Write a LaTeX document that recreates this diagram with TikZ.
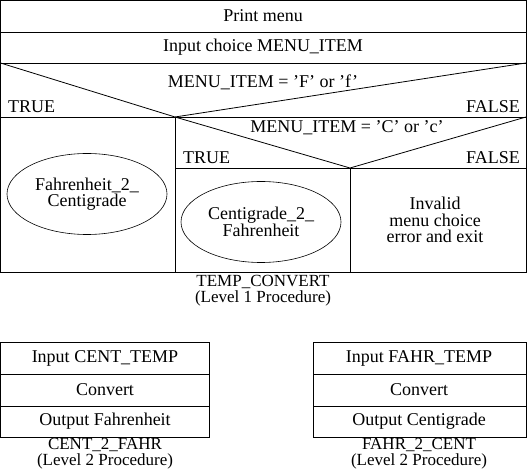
\documentclass[tikz,border=0pt]{standalone}
\usepackage{fontspec}
\setmainfont{Liberation Serif}
\usetikzlibrary{shapes.geometric}
\begin{document}
\begin{tikzpicture}[x=1pt,y=-1pt]
        \tikzset{txt/.style = {font=\fontsize{18}{16.5}\selectfont, inner sep=0pt, align=center}}
        \tikzset{caption/.style = {txt, font=\fontsize{17}{16}\selectfont, anchor=base}}
        \tikzset{blk/.style = {draw, line width=0.8pt}}
        \tikzset{proc/.style = {shape=ellipse, draw, line width=0.6pt, minimum width=160, minimum height=81, inner sep=0pt, font=\fontsize{18}{16.5}\selectfont, align=center}}
        \useasboundingbox (0,0) rectangle (527,470);
        % level 1 outline
        \draw[blk] (0.5,0.5) rectangle (526,272);
        \draw[blk] (0.5,32) -- (526,32);
        \draw[blk] (0.5,63) -- (526,63);
        \draw[blk] (0.5,117) -- (526,117);
        \draw[blk] (175,117) -- (175,272);
        \draw[blk] (175,168) -- (526,168);
        \draw[blk] (350,168) -- (350,272);
        % decisions
        \draw[blk] (0.5,63) -- (175,117) -- (526,63);
        \draw[blk] (175,117) -- (350,168) -- (526,117);
        % texts
        \node[txt] (print) at (263,16) {Print menu};
        \node[txt] (input) at (263,47) {Input choice MENU\_ITEM};
        \node[txt] (testf) at (263,82) {MENU\_ITEM = 'F' or 'f'};
        \node[txt, anchor=west] (truef) at (8,107) {TRUE};
        \node[txt, anchor=east] (falsef) at (520,107) {FALSE};
        \node[txt] (testc) at (347,128) {MENU\_ITEM = 'C' or 'c'};
        \node[txt, anchor=west] (truec) at (183,158) {TRUE};
        \node[txt, anchor=east] (falsec) at (520,158) {FALSE};
        \node[proc] (f2c) at (87,194) {Fahrenheit\_2\_\\Centigrade};
        \node[proc] (c2f) at (261,222) {Centigrade\_2\_\\Fahrenheit};
        \node[txt] (invalid) at (435,220) {Invalid\\menu choice\\error and exit};
        \node[caption] (temp) at (263,286) {TEMP\_CONVERT};
        \node[caption] (templev) at (263,302) {(Level 1 Procedure)};
        % level 2 procedures
        \draw[blk] (0.5,342) rectangle (209,437);
        \draw[blk] (0.5,374) -- (209,374);
        \draw[blk] (0.5,406) -- (209,406);
        \draw[blk] (313,342) rectangle (526,437);
        \draw[blk] (313,374) -- (526,374);
        \draw[blk] (313,406) -- (526,406);
        \node[txt] (incent) at (105,358) {Input CENT\_TEMP};
        \node[txt] (convl) at (105,390) {Convert};
        \node[txt] (outf) at (105,421) {Output Fahrenheit};
        \node[caption] (centfahr) at (105,449.5) {CENT\_2\_FAHR};
        \node[caption] (centlev) at (105,465.5) {(Level 2 Procedure)};
        \node[txt] (infahr) at (419,358) {Input FAHR\_TEMP};
        \node[txt] (convr) at (419,390) {Convert};
        \node[txt] (outc) at (419,421) {Output Centigrade};
        \node[caption] (fahrcent) at (419,449.5) {FAHR\_2\_CENT};
        \node[caption] (fahrlev) at (419,465.5) {(Level 2 Procedure)};
\end{tikzpicture}
\end{document}
